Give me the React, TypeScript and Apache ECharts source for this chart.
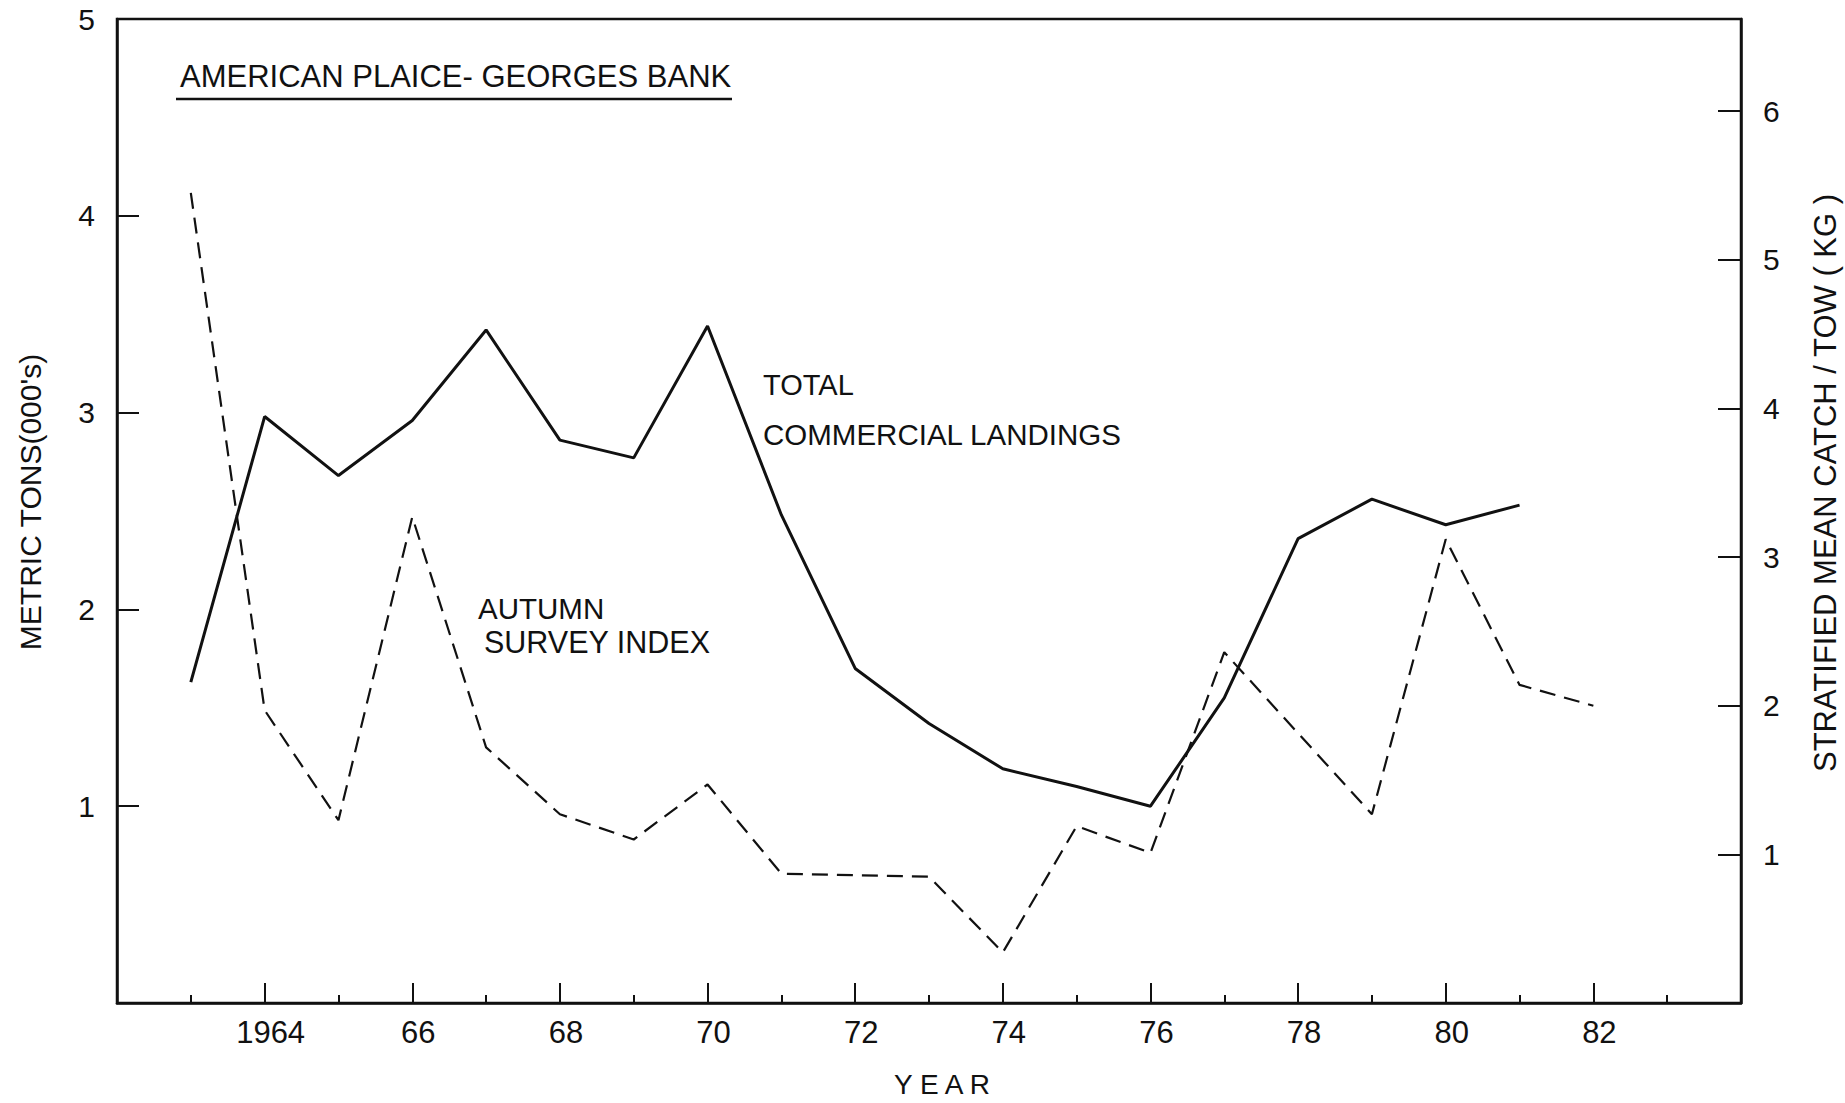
import React, { useEffect, useRef } from "react";
import * as echarts from "echarts";

// ---- Data ----
const landingYears = [1963, 1964, 1965, 1966, 1967, 1968, 1969, 1970, 1971, 1972, 1973, 1974, 1975, 1976, 1977, 1978, 1979, 1980, 1981];
const landings = [1.63, 2.98, 2.68, 2.96, 3.42, 2.86, 2.77, 3.44, 2.48, 1.70, 1.42, 1.19, 1.10, 1.00, 1.55, 2.36, 2.56, 2.43, 2.53];

const surveyYears = [1963, 1964, 1965, 1966, 1967, 1968, 1969, 1970, 1971, 1972, 1973, 1974, 1975, 1976, 1977, 1979, 1980, 1981, 1982];
const surveyIndex = [5.45, 1.97, 1.23, 3.27, 1.72, 1.27, 1.10, 1.47, 0.87, 0.86, 0.85, 0.34, 1.19, 1.01, 2.36, 1.27, 3.12, 2.14, 2.00];

const leftTicks = [1, 2, 3, 4, 5];
const rightTicks = [1, 2, 3, 4, 5, 6];

const FONT = "Liberation Sans";
const INK = "#111";

export default function App() {
  const ref = useRef<HTMLDivElement>(null);

  useEffect(() => {
    if (!ref.current) return;
    const chart = echarts.init(ref.current, null, { renderer: "svg" });

    const option: any = {
      animation: false,
      backgroundColor: "#fff",
      title: {
        text: "AMERICAN PLAICE- GEORGES BANK",
        left: 175,
        top: 56,
        textStyle: { fontFamily: FONT, fontSize: 31, fontWeight: "normal", color: INK },
      },
      grid: {
        left: 117,
        right: 104,
        top: 19,
        bottom: 100,
        containLabel: false,
        outerBoundsMode: "none",
        show: true,
        borderColor: INK,
        borderWidth: 2.5,
        backgroundColor: "transparent",
      },
      xAxis: {
        type: "value",
        min: 1962,
        max: 1984,
        interval: 2,
        axisLine: { show: true, lineStyle: { color: INK, width: 2.5 } },
        axisTick: { show: true, inside: true, length: 20, lineStyle: { color: INK, width: 2 } },
        minorTick: { show: true, splitNumber: 2, length: 8, lineStyle: { color: INK, width: 2 } },
        splitLine: { show: false },
        minorSplitLine: { show: false },
        axisLabel: {
          margin: 14,
          fontFamily: FONT,
          fontSize: 31,
          color: INK,
          padding: [0, 0, 0, 12],
          formatter: (v: number) => {
            if (v === 1962 || v === 1984) return "";
            if (v === 1964) return "1964";
            return String(v % 100);
          },
        },
      },
      yAxis: [
        {
          type: "value",
          position: "left",
          min: 0,
          max: 5,
          interval: 1,
          axisLine: { show: true, lineStyle: { color: INK, width: 2.5 } },
          axisTick: { show: true, inside: true, length: 22, lineStyle: { color: INK, width: 2 } },
          splitLine: { show: false },
          axisLabel: {
            margin: 22,
            fontFamily: FONT,
            fontSize: 30,
            color: INK,
            formatter: (v: number) => (leftTicks.indexOf(v) >= 0 ? String(v) : ""),
          },
        },
        {
          type: "value",
          position: "right",
          min: 0,
          max: 6.62,
          interval: 1,
          axisLine: { show: true, lineStyle: { color: INK, width: 2.5 } },
          axisTick: {
            show: true,
            inside: true,
            length: 23,
            customValues: rightTicks,
            lineStyle: { color: INK, width: 2 },
          },
          splitLine: { show: false },
          axisLabel: {
            margin: 22,
            fontFamily: FONT,
            fontSize: 30,
            color: INK,
            customValues: rightTicks,
            formatter: (v: number) => (rightTicks.indexOf(v) >= 0 ? String(v) : ""),
          },
        },
      ],
      series: [
        {
          name: "TOTAL COMMERCIAL LANDINGS",
          type: "line",
          yAxisIndex: 0,
          data: landingYears.map((y, i) => [y, landings[i]]),
          symbol: "none",
          lineStyle: { color: INK, width: 3 },
          z: 3,
        },
        {
          name: "AUTUMN SURVEY INDEX",
          type: "line",
          yAxisIndex: 1,
          data: surveyYears.map((y, i) => [y, surveyIndex[i]]),
          symbol: "none",
          lineStyle: { color: INK, width: 2.2, type: [16, 9] },
          z: 2,
        },
      ],
      graphic: [
        {
          type: "line",
          shape: { x1: 176, y1: 99, x2: 732, y2: 99 },
          style: { stroke: INK, lineWidth: 2.5 },
        },
        {
          type: "text",
          x: 763,
          y: 385,
          style: { text: "TOTAL", fontFamily: FONT, fontSize: 29, fill: INK, textAlign: "left", textVerticalAlign: "middle" },
        },
        {
          type: "text",
          x: 763,
          y: 434,
          style: { text: "COMMERCIAL LANDINGS", fontFamily: FONT, fontSize: 29.5, fill: INK, textAlign: "left", textVerticalAlign: "middle" },
        },
        {
          type: "text",
          x: 478,
          y: 608,
          style: { text: "AUTUMN", fontFamily: FONT, fontSize: 29.5, fill: INK, textAlign: "left", textVerticalAlign: "middle" },
        },
        {
          type: "text",
          x: 484,
          y: 642,
          style: { text: "SURVEY INDEX", fontFamily: FONT, fontSize: 30.5, fill: INK, textAlign: "left", textVerticalAlign: "middle" },
        },
        {
          type: "text",
          x: 942,
          y: 1084,
          style: { text: "Y E A R", fontFamily: FONT, fontSize: 28, fill: INK, textAlign: "center", textVerticalAlign: "middle" },
        },
        {
          type: "text",
          x: 30,
          y: 502,
          rotation: Math.PI / 2,
          style: { text: "METRIC TONS(000's)", fontFamily: FONT, fontSize: 30, fill: INK, textAlign: "center", textVerticalAlign: "middle" },
        },
        {
          type: "text",
          x: 1825,
          y: 483,
          rotation: Math.PI / 2,
          style: { text: "STRATIFIED MEAN CATCH / TOW ( KG )", fontFamily: FONT, fontSize: 31, fill: INK, textAlign: "center", textVerticalAlign: "middle" },
        },
      ],
    };

    chart.setOption(option);
    return () => chart.dispose();
  }, []);

  return (
    <div
      ref={ref}
      style={{ position: "absolute", left: 0, top: 0, width: 1845, height: 1103, background: "#fff" }}
    />
  );
}
